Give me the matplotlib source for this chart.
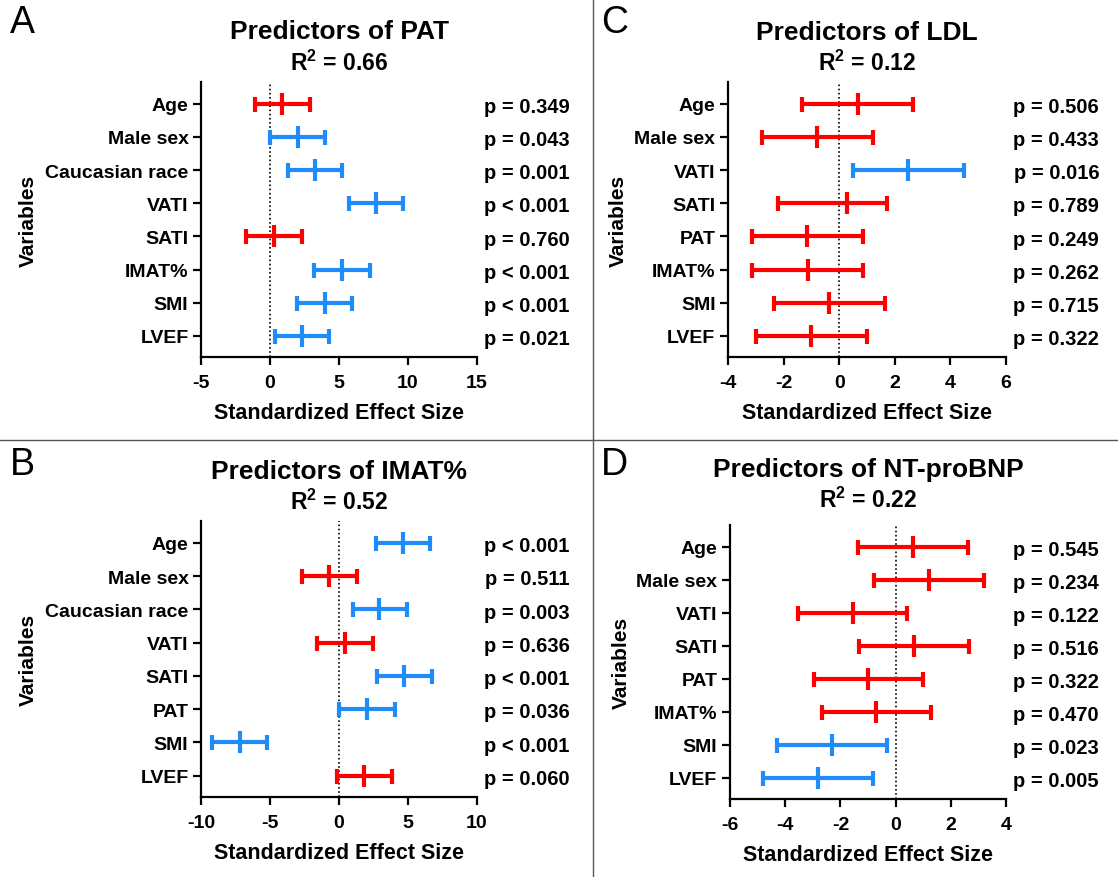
import numpy as np
import matplotlib
matplotlib.use("Agg")
import matplotlib.pyplot as plt
from matplotlib.lines import Line2D

plt.rcParams['font.family'] = ['Liberation Sans', 'DejaVu Sans']
plt.rcParams['mathtext.fontset'] = 'custom'
plt.rcParams['mathtext.rm'] = 'Liberation Sans:bold'
plt.rcParams['mathtext.bf'] = 'Liberation Sans:bold'
plt.rcParams['axes.unicode_minus'] = False

# panel A - predictors of PAT
vars_A = ["Age", "Male sex", "Caucasian race", "VATI", "SATI", "IMAT%", "SMI", "LVEF"]
est_A = [0.88, 2.0, 3.24, 7.67, 0.28, 5.21, 3.96, 2.31]
lo_A = [-1.06, 0.03, 1.27, 5.70, -1.71, 3.21, 1.97, 0.34]
hi_A = [2.90, 4.0, 5.23, 9.66, 2.31, 7.23, 5.96, 4.30]
p_A = ["p = 0.349", "p = 0.043", "p = 0.001", "p < 0.001", "p = 0.760", "p < 0.001", "p < 0.001", "p = 0.021"]

# panel B - predictors of IMAT%
vars_B = ["Age", "Male sex", "Caucasian race", "VATI", "SATI", "PAT", "SMI", "LVEF"]
est_B = [4.64, -0.73, 2.93, 0.41, 4.72, 2.05, -7.18, 1.84]
lo_B = [2.67, -2.69, 0.98, -1.58, 2.75, 0.03, -9.17, -0.16]
hi_B = [6.63, 1.27, 4.92, 2.44, 6.71, 4.07, -5.21, 3.83]
p_B = ["p < 0.001", "p = 0.511", "p = 0.003", "p = 0.636", "p < 0.001", "p = 0.036", "p < 0.001", "p = 0.060"]

# panel C - predictors of LDL
vars_C = ["Age", "Male sex", "VATI", "SATI", "PAT", "IMAT%", "SMI", "LVEF"]
est_C = [0.67, -0.79, 2.48, 0.29, -1.15, -1.14, -0.37, -1.01]
lo_C = [-1.33, -2.79, 0.48, -2.20, -3.12, -3.14, -2.36, -3.01]
hi_C = [2.67, 1.21, 4.48, 1.73, 0.85, 0.86, 1.63, 0.99]
p_C = ["p = 0.506", "p = 0.433", "p = 0.016", "p = 0.789", "p = 0.249", "p = 0.262", "p = 0.715", "p = 0.322"]

# panel D - predictors of NT-proBNP
vars_D = ["Age", "Male sex", "VATI", "SATI", "PAT", "IMAT%", "SMI", "LVEF"]
est_D = [0.62, 1.20, -1.55, 0.66, -0.99, -0.71, -2.30, -2.81]
lo_D = [-1.38, -0.77, -3.55, -1.32, -2.97, -2.68, -4.30, -4.80]
hi_D = [2.61, 3.19, 0.43, 2.65, 1.01, 1.29, -0.32, -0.83]
p_D = ["p = 0.545", "p = 0.234", "p = 0.122", "p = 0.516", "p = 0.322", "p = 0.470", "p = 0.023", "p = 0.005"]

RED = "#FF0000"
BLUE = "#1E8CFA"
W, H = 1118, 878

fig = plt.figure(figsize=(W / 100, H / 100), dpi=100)


def px_axes(left, top, right, bottom):
    # axes box from pixel edges
    return fig.add_axes([left / W, 1 - bottom / H, (right - left) / W, (bottom - top) / H])


def is_sig(p):
    return p.startswith("p <") or float(p.split()[-1]) < 0.05


def draw_panel(ax, names, est, lo, hi, pvals, xlim, xstep, letter, title, r2,
               letter_xy, title_y, r2_y, ylab_x):
    n = len(names)
    y = np.arange(n, 0, -1)
    est = np.array(est)
    lo = np.array(lo)
    hi = np.array(hi)
    ax.axvline(0, color="black", lw=1.2, ls=(0, (1, 1.5)), zorder=1)
    for i in range(n):
        c = BLUE if is_sig(pvals[i]) else RED
        ax.errorbar(est[i], y[i], xerr=[[est[i] - lo[i]], [hi[i] - est[i]]],
                    fmt="|", color=c, ms=16, mew=3, elinewidth=3,
                    capsize=5.4, capthick=3, zorder=3)
        ax.text(1.335, y[i] - 0.08, pvals[i], transform=ax.get_yaxis_transform(),
                ha="right", va="center", fontsize=14.5, fontweight="bold")
    ax.set_xlim(xlim)
    ax.set_ylim(0.36, n + 0.66)
    ax.set_xticks(np.arange(xlim[0], xlim[1] + xstep / 2, xstep))
    ax.set_yticks(y)
    ax.set_yticklabels(names)
    for sp in ["top", "right"]:
        ax.spines[sp].set_visible(False)
    for sp in ["left", "bottom"]:
        ax.spines[sp].set_linewidth(1.6)
    ax.tick_params(width=1.6, length=6, labelsize=14)
    ax.tick_params(axis="x", pad=6)
    ax.tick_params(axis="y", pad=3)
    for lab in ax.get_xticklabels() + ax.get_yticklabels():
        lab.set_fontweight("bold")
    ax.set_xlabel("Standardized Effect Size", fontsize=15.5, fontweight="bold", labelpad=8)
    ax.set_ylabel("Variables", fontsize=15, fontweight="bold")
    ax.yaxis.set_label_coords(ylab_x, 0.5)

    pos = ax.get_position()
    cx = pos.x0 + pos.width / 2
    fig.text(cx, 1 - title_y / H, title, ha="center", va="center", fontsize=19, fontweight="bold")
    fig.text(cx, 1 - r2_y / H, "R$^{\\mathbf{2}}$ = " + r2, ha="center", va="center",
             fontsize=16.5, fontweight="bold")
    fig.text(letter_xy[0] / W, 1 - letter_xy[1] / H, letter, ha="left", va="top", fontsize=27)


axA = px_axes(201, 83, 477, 358)
draw_panel(axA, vars_A, est_A, lo_A, hi_A, p_A, (-5, 15), 5, "A", "Predictors of PAT", "0.66",
           (10, 5), 32, 63, -0.59)

axC = px_axes(728, 83, 1006, 358)
draw_panel(axC, vars_C, est_C, lo_C, hi_C, p_C, (-4, 6), 2, "C", "Predictors of LDL", "0.12",
           (601, 5), 33, 63, -0.36)

axB = px_axes(201, 522, 477, 798)
draw_panel(axB, vars_B, est_B, lo_B, hi_B, p_B, (-10, 10), 5, "B", "Predictors of IMAT%", "0.52",
           (10, 447), 472, 502, -0.59)

axD = px_axes(730, 526, 1006, 800)
draw_panel(axD, vars_D, est_D, lo_D, hi_D, p_D, (-6, 4), 2, "D", "Predictors of NT-proBNP", "0.22",
           (601, 447), 470, 500, -0.36)

# separator lines between panels
fig.add_artist(Line2D([593 / W, 593 / W], [0, 1], transform=fig.transFigure, color="#555555", lw=1))
fig.add_artist(Line2D([0, 1], [1 - 441 / H, 1 - 441 / H], transform=fig.transFigure, color="#555555", lw=1))

fig.savefig("out.png", dpi=100)
